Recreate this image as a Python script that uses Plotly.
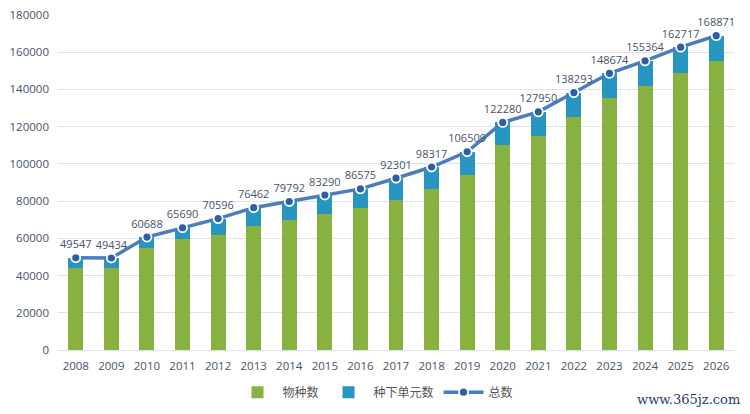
import plotly.graph_objects as go

# values
years = [str(y) for y in range(2008, 2027)]
totals = [49547, 49434, 60688, 65690, 70596, 76462, 79792, 83290, 86575, 92301,
          98317, 106509, 122280, 127950, 138293, 148674, 155364, 162717, 168871]
species = [44000, 44000, 54800, 59600, 62000, 66800, 70000, 73200, 76500, 80400,
           86500, 94300, 110300, 115100, 125200, 135200, 141600, 148600, 155400]
subspecies = [t - s for t, s in zip(totals, species)]

font_name = "Open Sans, Noto Sans CJK SC, sans-serif"
text_color = "#44546A"

fig = go.Figure()

fig.add_trace(go.Bar(
    x=years, y=species, name="物种数",
    marker=dict(color="#88B23F", line=dict(width=0)),
    hoverinfo="y",
))
fig.add_trace(go.Bar(
    x=years, y=subspecies, name="种下单元数",
    marker=dict(color="#2795C1", line=dict(width=0)),
    hoverinfo="y",
))
fig.add_trace(go.Scatter(
    x=years, y=totals, name="总数",
    mode="lines+markers+text",
    line=dict(color="#4A7DBD", width=3.5),
    marker=dict(color="#2D5FA8", size=9, line=dict(color="white", width=1.8)),
    text=[str(v) for v in totals],
    textposition="top center",
    textfont=dict(size=11, color=text_color, family=font_name),
))

fig.update_layout(
    width=750, height=414,
    barmode="stack",
    bargap=0.58,
    plot_bgcolor="white",
    paper_bgcolor="white",
    # page adds 8px of body margin, so margins are shifted to compensate
    margin=dict(l=50, r=24, t=7, b=72, autoexpand=False),
    font=dict(family=font_name, size=11, color=text_color),
    showlegend=True,
    legend=dict(
        orientation="h", traceorder="normal",
        xref="container", x=0.49, xanchor="center",
        yref="container", y=0.072, yanchor="middle",
        font=dict(size=12, color="#555555", family="Noto Sans CJK SC, sans-serif"),
        itemwidth=40,
    ),
    xaxis=dict(
        range=[-0.5, len(years) - 0.5],
        showgrid=False, showline=False, ticks="", automargin=False,
        ticklabelstandoff=7,
        tickfont=dict(size=11.5, color=text_color),
    ),
    yaxis=dict(
        range=[0, 180000], dtick=20000, tickformat="d", automargin=False,
        ticklabeloverflow="allow", ticklabelstandoff=8,
        gridcolor="#DCE3EE", gridwidth=1,
        zeroline=True, zerolinecolor="#DCE3EE", zerolinewidth=1,
        showline=False, ticks="",
        tickfont=dict(size=11.5, color=text_color),
    ),
    annotations=[dict(
        text="www.365jz.com", x=1.0, y=-0.149, xref="paper", yref="paper",
        xanchor="right", yanchor="middle", xshift=8, showarrow=False,
        font=dict(family="DejaVu Serif, serif", size=13, color="#1F3B78"),
    )],
)

fig.write_html("out.html")
